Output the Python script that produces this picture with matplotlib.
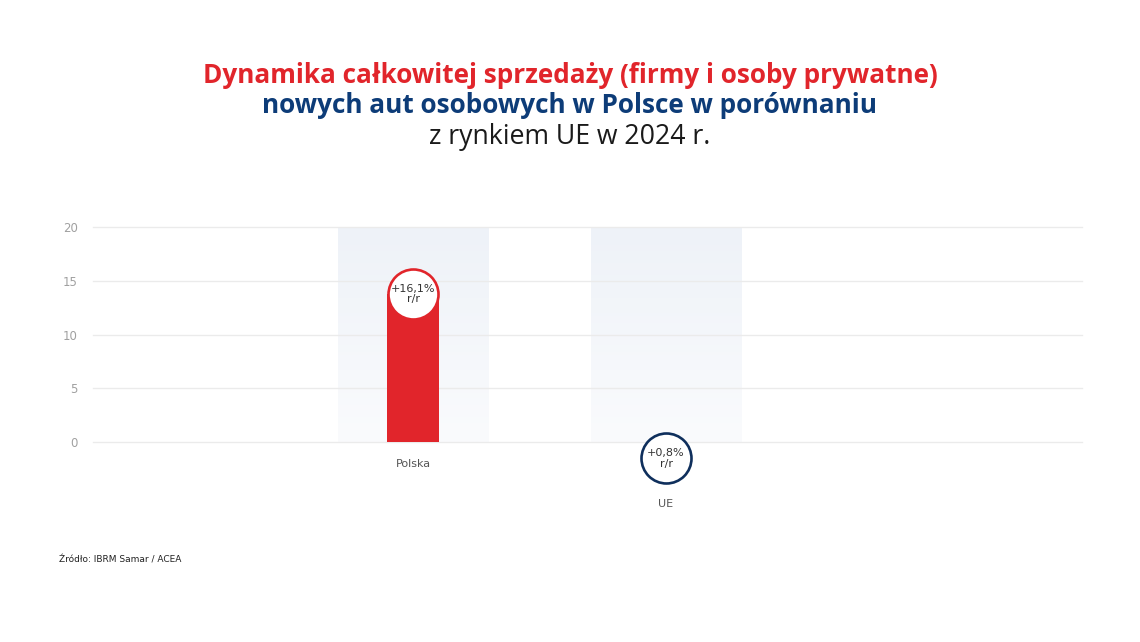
import numpy as np
import matplotlib.pyplot as plt
from matplotlib.colors import LinearSegmentedColormap

# data
categories = ['Polska', 'UE']
values = [16.1, 0.8]
labels = ['+16,1%\nr/r', '+0,8%\nr/r']
bar_colors = ['#e1252b', '#0f2f5c']
yticks = [0, 5, 10, 15, 20]

RED = '#e1252b'
NAVY = '#0d3c78'
GRID = '#ebebeb'

fig = plt.figure(figsize=(11.4, 6.42), dpi=100)
ax = fig.add_axes([0.0816, 0.3115, 0.8675, 0.3349])

x = np.arange(len(categories))
ax.set_xlim(-1.265, 2.644)
ax.set_ylim(0, 20)

# pixel -> data conversions for the circle badge
px_per_unit = 0.3349 * 642 / 20.0
r_px = 25.0
r_data = r_px / px_per_unit

# pale background columns with a soft vertical gradient
grad = np.linspace(0, 1, 100).reshape(-1, 1)
cmap = LinearSegmentedColormap.from_list('bg', ['#fafbfd', '#eef2f8'])
for xi in x:
    ax.imshow(grad, cmap=cmap, origin='lower', aspect='auto',
              extent=(xi - 0.298, xi + 0.298, 0, 20), zorder=0)

for t in yticks:
    ax.axhline(t, color=GRID, linewidth=1.0, zorder=1, clip_on=False)

# bars stop at the badge centre; badge forms the rounded top
heights = [max(v - r_data, 0) for v in values]
ax.bar(x, heights, width=0.206, color=[bar_colors[0], 'none'], zorder=2)

for xi, v, c, lab in zip(x, values, bar_colors, labels):
    cy = v - r_data
    ax.plot([xi], [cy], 'o', markersize=2 * r_px * 72 / 100,
            markerfacecolor='white', markeredgecolor=c,
            markeredgewidth=1.9, zorder=3, clip_on=False)
    ax.text(xi, cy, lab, ha='center', va='center', fontsize=8,
            color='#333333', linespacing=1.05, zorder=4,
            family='DejaVu Sans')
    # category label below bar or badge
    low = min(0, cy - r_data)
    ax.text(xi, low - 1.9 if low < 0 else -2.0, categories[xi],
            ha='center', va='center', fontsize=8, color='#555555',
            clip_on=False, family='DejaVu Sans')

ax.set_yticks(yticks)
ax.set_yticklabels([str(t) for t in yticks], fontsize=8.5, color='#a0a0a0')
ax.tick_params(axis='y', length=0, pad=11)
ax.set_xticks([])
for s in ax.spines.values():
    s.set_visible(False)
ax.patch.set_alpha(0)

# title lines
fig.text(0.5, 0.882, 'Dynamika całkowitej sprzedaży (firmy i osoby prywatne)',
         ha='center', va='center', fontsize=18.8, fontweight='bold',
         color=RED, family='Open Sans')
fig.text(0.5, 0.835, 'nowych aut osobowych w Polsce w porównaniu',
         ha='center', va='center', fontsize=18.8, fontweight='bold',
         color=NAVY, family='Open Sans')
fig.text(0.5, 0.787, 'z rynkiem UE w 2024 r.',
         ha='center', va='center', fontsize=19.2, color='#1a1a1a',
         family='Open Sans')

fig.text(0.052, 0.128, 'Źródło: IBRM Samar / ACEA', ha='left', va='center',
         fontsize=6.5, color='#222222', family='DejaVu Sans')

fig.savefig('out.png', dpi=100, facecolor='white')
